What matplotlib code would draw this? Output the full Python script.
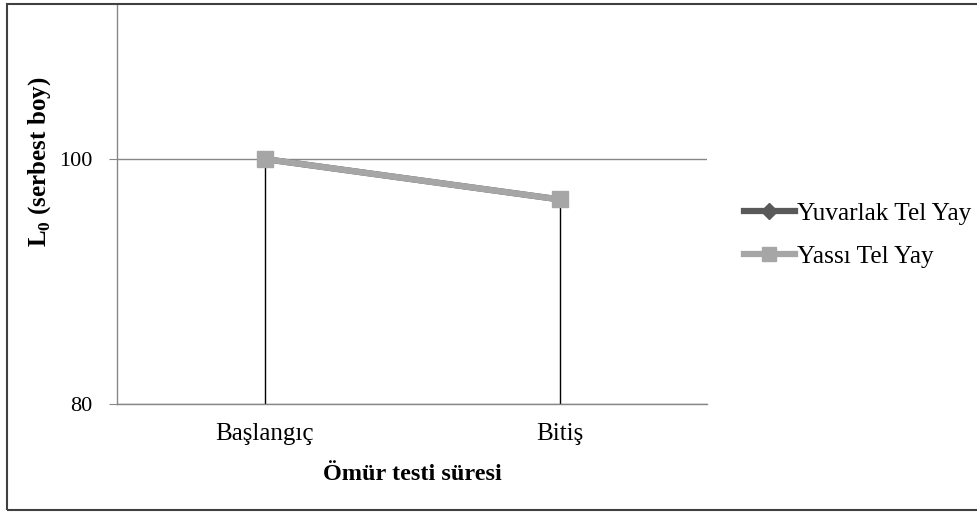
import matplotlib
matplotlib.use("Agg")
import matplotlib.pyplot as plt
from matplotlib.patches import Rectangle

# data
categories = ["Başlangıç", "Bitiş"]
yuvarlak = [100.0, 96.7]
yassi = [100.0, 96.7]
yticks = [80, 100]

plt.rcParams['font.family'] = ['Liberation Serif', 'DejaVu Serif']
plt.rcParams['mathtext.fontset'] = 'custom'
plt.rcParams['mathtext.rm'] = 'Liberation Serif'
plt.rcParams['mathtext.bf'] = 'Liberation Serif:bold'

W, H = 977, 513
fig = plt.figure(figsize=(W / 100, H / 100), dpi=100)

# outer chart border (cropped on the right in the original)
fig.patches.append(Rectangle((7 / W, 1 - 510 / H), 1.0, (510 - 4) / H,
                             transform=fig.transFigure, fill=False,
                             edgecolor='#404040', linewidth=1.5))

ax = fig.add_axes([117 / W, 1 - 404 / H, (707 - 117) / W, (404 - 4) / H])
x = list(range(len(categories)))

ax.set_xlim(-0.5, len(categories) - 0.5)
ax.set_ylim(80, 80 + 20 * 400 / 245)

# drop lines from points to category axis
for xi, yi in zip(x, yuvarlak):
    ax.plot([xi, xi], [80, yi], color='black', linewidth=1, zorder=2)

ax.plot(x, yuvarlak, color='#595959', linewidth=4.5, marker='D', markersize=8,
        label='Yuvarlak Tel Yay', zorder=3)
ax.plot(x, yassi, color='#a6a6a6', linewidth=4.5, marker='s', markersize=11.5,
        label='Yassı Tel Yay', zorder=4)

ax.set_yticks(yticks)
ax.yaxis.grid(True, color='#878787', linewidth=1)
ax.set_axisbelow(True)
ax.set_xticks(x)
ax.set_xticklabels(categories, fontsize=18)
ax.tick_params(axis='x', length=0, pad=14)
ax.tick_params(axis='y', length=6, color='#878787', labelsize=16, pad=11.5)

for s in ['top', 'right']:
    ax.spines[s].set_visible(False)
for s in ['left', 'bottom']:
    ax.spines[s].set_color('#878787')
    ax.spines[s].set_linewidth(1)

ax.set_xlabel('Ömür testi süresi', fontsize=17.5, fontweight='bold', labelpad=13)
ax.set_ylabel(r'L$_\mathbf{0}$ (serbest boy)', fontsize=18, fontweight='bold')
ax.yaxis.set_label_coords(-0.108, 0.605)

leg = ax.legend(loc='upper left', bbox_to_anchor=(1.045, 0.53), frameon=False,
                fontsize=18.3, handlelength=2.0, handletextpad=0.1,
                labelspacing=0.8, borderaxespad=0)
for h in leg.legend_handles:
    h.set_linewidth(4.5)
leg.legend_handles[1].set_markersize(10)

fig.savefig('out.png', dpi=100)
